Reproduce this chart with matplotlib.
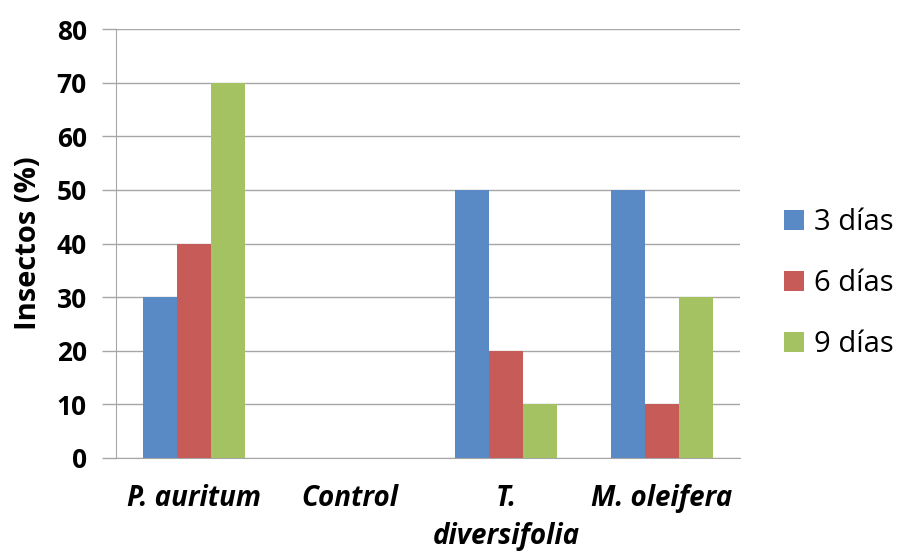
import numpy as np
import matplotlib
matplotlib.use("Agg")
import matplotlib.pyplot as plt

plt.rcParams['font.family'] = ['Open Sans', 'DejaVu Sans']

categories = ["P. auritum", "Control", "T.\ndiversifolia", "M. oleifera"]
series_names = ["3 días", "6 días", "9 días"]
dias_3 = [30, 0, 50, 50]
dias_6 = [40, 0, 20, 10]
dias_9 = [70, 0, 10, 30]
y_ticks = [0, 10, 20, 30, 40, 50, 60, 70, 80]

colors = ["#598AC5", "#C65B58", "#A5C263"]
grid_color = "#A6A6A6"

fig = plt.figure(figsize=(9.03, 5.52), dpi=100)
ax = fig.add_axes([0.1285, 0.1703, 0.691, 0.777])

x = np.arange(len(categories))
w = 0.218
bars = []
for i, vals in enumerate([dias_3, dias_6, dias_9]):
    b = ax.bar(x + (i - 1) * w, vals, w, color=colors[i], label=series_names[i], zorder=3)
    bars.append(b)

ax.set_xlim(-0.5, len(categories) - 0.5)
ax.set_ylim(0, 80)
ax.set_yticks(y_ticks)
ax.yaxis.grid(True, color=grid_color, linewidth=1.0, zorder=0)
ax.set_axisbelow(True)

for s in ["top", "right"]:
    ax.spines[s].set_visible(False)
ax.spines["left"].set_color(grid_color)
ax.spines["bottom"].set_color(grid_color)

ax.tick_params(axis="y", direction="out", length=10, color=grid_color, width=1,
               labelsize=19, pad=11)
ax.tick_params(axis="x", length=0, pad=19)
for lbl in ax.get_yticklabels():
    lbl.set_fontweight("bold")

ax.set_xticks(x)
ax.set_xticklabels(categories, fontsize=20, fontweight="bold", style="italic",
                   linespacing=1.4, va="top")

ax.set_ylabel("Insectos (%)", fontsize=21, fontweight="bold", labelpad=10)

fig.legend(handles=bars, labels=series_names, loc="center left",
           bbox_to_anchor=(0.868, 0.486), frameon=False, fontsize=21,
           handlelength=0.685, handleheight=0.685, handletextpad=0.34,
           labelspacing=1.1, borderpad=0, borderaxespad=0)

fig.savefig("out.png", dpi=100)
